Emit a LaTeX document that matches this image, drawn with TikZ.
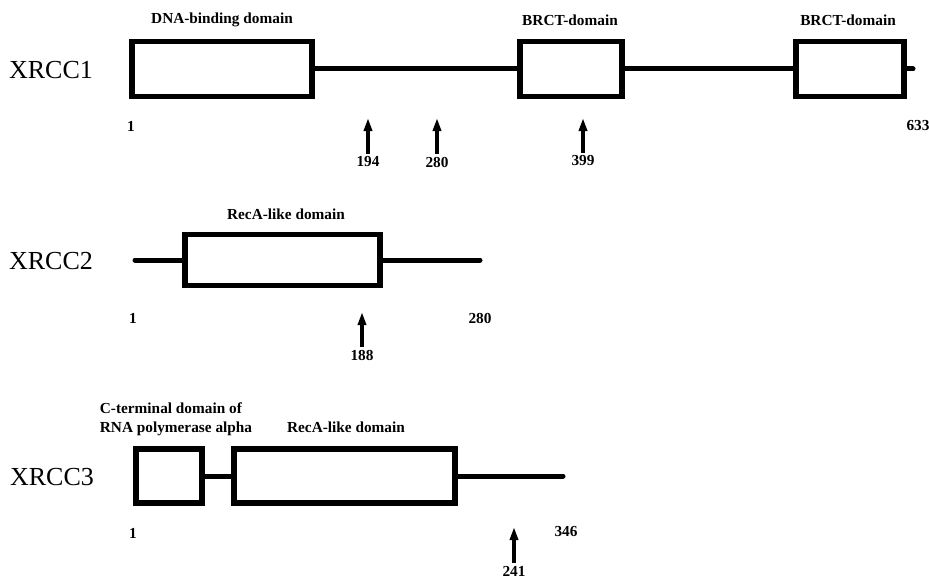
\documentclass[tikz,border=0pt]{standalone}
\usepackage{fontspec}
\setmainfont{Liberation Serif}
\usetikzlibrary{arrows.meta}

\tikzset{
    dom/.style={rectangle, draw, line width=5.5pt, fill=white, inner sep=0pt},
    chain/.style={line width=5pt, line cap=round},
    snp/.style={-{Triangle[width=8pt,length=13pt]}, line width=3.5pt},
    gene/.style={font=\fontsize{26}{30}\selectfont},
    lbl/.style={font=\bfseries\fontsize{15.3}{19}\selectfont, inner sep=3pt}
}

\begin{document}
\begin{tikzpicture}[x=1pt, y=-1pt]
    \useasboundingbox (0,0) rectangle (929,578);

    % XRCC1
    \node[gene] (x1) at (51,70) {XRCC1};
    \node[dom, minimum width=180pt, minimum height=55pt] (dna) at (222,69) {};
    \node[dom, minimum width=102pt, minimum height=55pt] (brcta) at (571,69) {};
    \node[dom, minimum width=108pt, minimum height=55pt] (brctb) at (850,69) {};
    \coordinate (end1) at (913,69);

    \draw[chain] (dna.east) -- (brcta.west);
    \draw[chain] (brcta.east) -- (brctb.west);
    \draw[chain] (brctb.east) -- (end1);

    \node[lbl] (dnal) at (222,20) {DNA-binding domain};
    \node[lbl] (brctal) at (570,20) {BRCT-domain};
    \node[lbl] (brctbl) at (848,20) {BRCT-domain};
    \node[lbl] (s1) at (131,126) {1};
    \node[lbl] (e1) at (918,126) {633};

    \node[lbl] (m194) at (368,162) {194};
    \node[lbl] (m280) at (437,162) {280};
    \node[lbl] (m399) at (583,161) {399};
    \coordinate (t194) at (368,118);
    \coordinate (t280) at (437,118);
    \coordinate (t399) at (583,118);
    \draw[snp] (m194) -- (t194);
    \draw[snp] (m280) -- (t280);
    \draw[snp] (m399) -- (t399);

    % XRCC2
    \node[gene] (x2) at (51,261) {XRCC2};
    \coordinate (beg2) at (135,260);
    \coordinate (end2) at (480,260);
    \node[dom, minimum width=195pt, minimum height=51pt] (reca2) at (282.5,260) {};

    \draw[chain] (beg2) -- (reca2.west);
    \draw[chain] (reca2.east) -- (end2);

    \node[lbl] (reca2l) at (286,214) {RecA-like domain};
    \node[lbl] (s2) at (133,318) {1};
    \node[lbl] (e2) at (480,318) {280};

    \node[lbl] (m188) at (362,355) {188};
    \coordinate (t188) at (362,312);
    \draw[snp] (m188) -- (t188);

    % XRCC3
    \node[gene] (x3) at (52,477) {XRCC3};
    \node[dom, minimum width=66pt, minimum height=54pt] (ctd) at (169,476) {};
    \node[dom, minimum width=221pt, minimum height=54pt] (reca3) at (344.5,476) {};
    \coordinate (end3) at (563,476);

    \draw[chain] (ctd.east) -- (reca3.west);
    \draw[chain] (reca3.east) -- (end3);

    \node[lbl, align=left] (ctdl) at (176,419) {C-terminal domain of\\RNA polymerase alpha};
    \node[lbl] (reca3l) at (346,427) {RecA-like domain};
    \node[lbl] (s3) at (133,533) {1};
    \node[lbl] (e3) at (566,532) {346};

    \node[lbl] (m241) at (514,571) {241};
    \coordinate (t241) at (514,527);
    \draw[snp] (m241) -- (t241);
\end{tikzpicture}
\end{document}
